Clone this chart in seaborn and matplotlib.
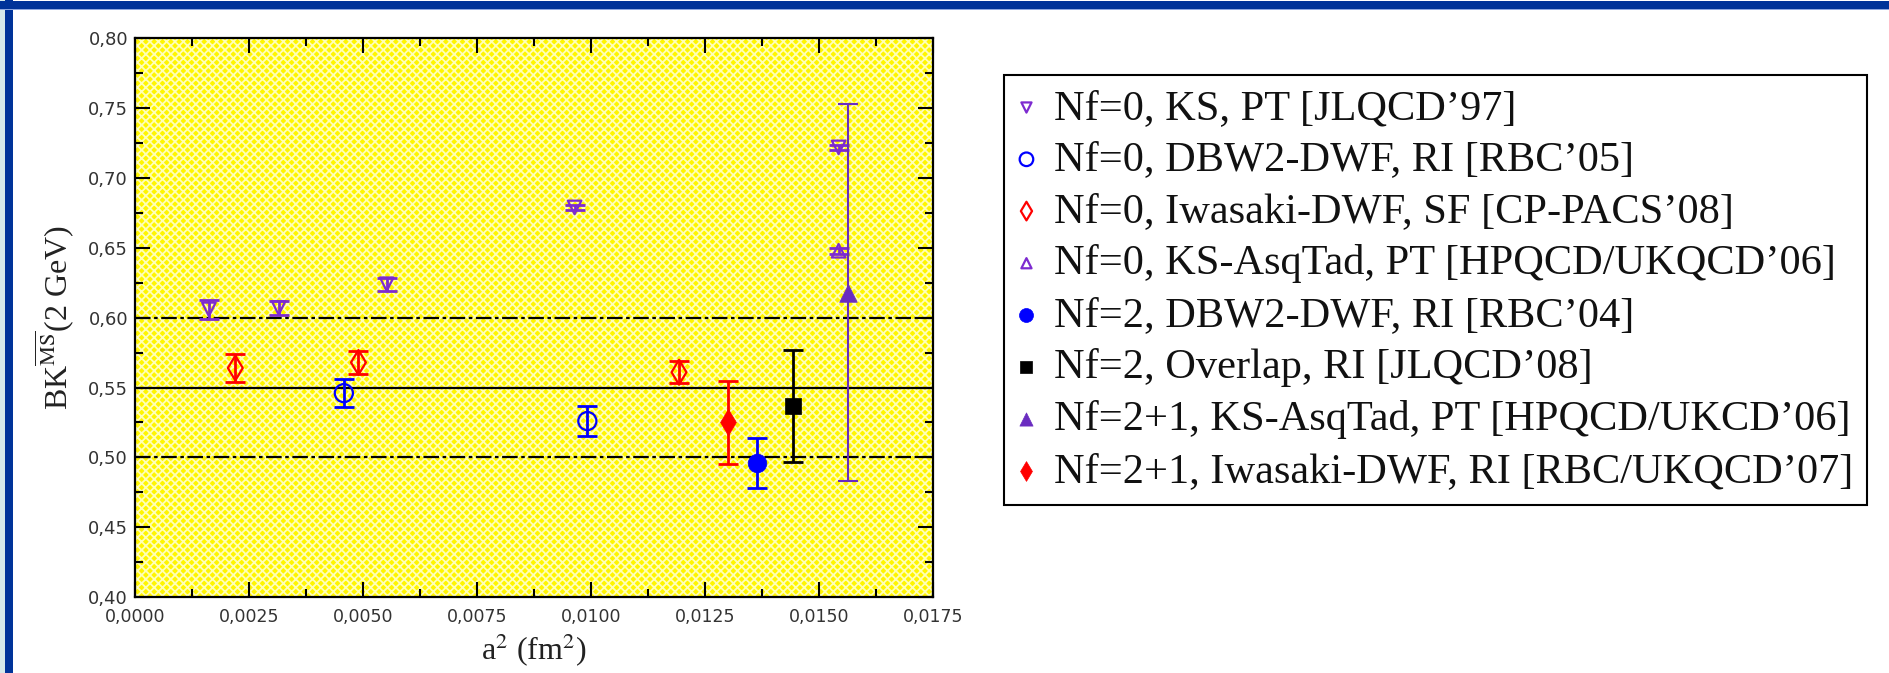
import numpy as np
import pandas as pd
import seaborn as sns
import matplotlib
matplotlib.use("Agg")
import matplotlib.pyplot as plt
from matplotlib.patches import Rectangle
from matplotlib.ticker import MultipleLocator

# ---------------- data ----------------
ks_pt_x = [0.00162, 0.00315, 0.00552, 0.00964, 0.01543]
ks_pt_y = [0.606, 0.607, 0.624, 0.679, 0.722]
ks_pt_e = [0.007, 0.005, 0.0045, 0.002, 0.002]

dbw2_05_x = [0.00458, 0.00992]
dbw2_05_y = [0.546, 0.526]
dbw2_05_e = [0.010, 0.011]

iwa_sf_x = [0.0022, 0.0049, 0.01193]
iwa_sf_y = [0.564, 0.568, 0.561]
iwa_sf_e = [0.010, 0.008, 0.008]

asq0_x = [0.01543]
asq0_y = [0.648]
asq0_e = [0.002]

dbw2_04_x = [0.01363]
dbw2_04_y = [0.496]
dbw2_04_e = [0.018]

ovl_x = [0.01444]
ovl_y = [0.537]
ovl_e = [0.040]

asq21_x = [0.01563]
asq21_y = [0.618]
asq21_e = [0.135]

iwa21_x = [0.0130]
iwa21_y = [0.525]
iwa21_e = [0.030]

labels = [
    "Nf=0, KS, PT [JLQCD\u201997]",
    "Nf=0, DBW2-DWF, RI [RBC\u201905]",
    "Nf=0, Iwasaki-DWF, SF [CP-PACS\u201908]",
    "Nf=0, KS-AsqTad, PT [HPQCD/UKQCD\u201906]",
    "Nf=2, DBW2-DWF, RI [RBC\u201904]",
    "Nf=2, Overlap, RI [JLQCD\u201908]",
    "Nf=2+1, KS-AsqTad, PT [HPQCD/UKCD\u201906]",
    "Nf=2+1, Iwasaki-DWF, RI [RBC/UKQCD\u201907]",
]

ref_lines = [0.60, 0.55, 0.50]
ref_styles = ["dashdot", "solid", "dashdot"]

xticks = [0.0, 0.0025, 0.0050, 0.0075, 0.0100, 0.0125, 0.0150, 0.0175]
xticklabels = ["0,0000", "0,0025", "0,0050", "0,0075", "0,0100", "0,0125", "0,0150", "0,0175"]
yticks = [0.40, 0.45, 0.50, 0.55, 0.60, 0.65, 0.70, 0.75, 0.80]
yticklabels = ["0,40", "0,45", "0,50", "0,55", "0,60", "0,65", "0,70", "0,75", "0,80"]

# ---------------- style ----------------
sns.set_theme(style="ticks")
plt.rcParams["font.family"] = ["DejaVu Sans"]
plt.rcParams["mathtext.fontset"] = "stix"
plt.rcParams["hatch.color"] = "#ffffb8"
plt.rcParams["hatch.linewidth"] = 1.3

PURPLE = "#7d2ad0"
BLUE = "#0000ff"
RED = "#ff0000"
BLACK = "#000000"

series = [
    (ks_pt_x, ks_pt_y, ks_pt_e, "v", PURPLE, False, 95),
    (dbw2_05_x, dbw2_05_y, dbw2_05_e, "o", BLUE, False, 170),
    (iwa_sf_x, iwa_sf_y, iwa_sf_e, "d", RED, False, 160),
    (asq0_x, asq0_y, asq0_e, "^", PURPLE, False, 95),
    (dbw2_04_x, dbw2_04_y, dbw2_04_e, "o", BLUE, True, 180),
    (ovl_x, ovl_y, ovl_e, "s", BLACK, True, 120),
    (asq21_x, asq21_y, asq21_e, "^", "#6a2cc0", True, 160),
    (iwa21_x, iwa21_y, iwa21_e, "d", RED, True, 180),
]

fig = plt.figure(figsize=(18.9, 6.73), dpi=100)
fig.patch.set_facecolor("white")

# slide frame decoration
fig.patches.append(Rectangle((0, 0), 5 / 1890, 1, transform=fig.transFigure,
                             facecolor="#d6e9ea", edgecolor="none", zorder=0))
fig.patches.append(Rectangle((5 / 1890, 0), 8 / 1890, 1, transform=fig.transFigure,
                             facecolor="#003399", edgecolor="none", zorder=0))
fig.patches.append(Rectangle((0, 1 - 9 / 673), 1, 8 / 673, transform=fig.transFigure,
                             facecolor="#003399", edgecolor="none", zorder=0))
fig.patches.append(Rectangle((0, 1 - 10 / 673), 1, 1 / 673, transform=fig.transFigure,
                             facecolor="#8fa8e0", edgecolor="none", zorder=0))

ax = fig.add_axes([135 / 1890, (673 - 597) / 673, (933 - 135) / 1890, (597 - 38.5) / 673])
ax.patch.set_facecolor("#fff500")
ax.patch.set_hatch("xxxx")
ax.patch.set_edgecolor("#ffffb8")
ax.patch.set_linewidth(0)

for yv, ls in zip(ref_lines, ref_styles):
    if ls == "dashdot":
        ax.axhline(yv, color="black", lw=1.6, dashes=(7, 1.6, 1.6, 1.6), zorder=1)
    else:
        ax.axhline(yv, color="black", lw=1.6, zorder=1)

for (xs, ys, es, mk, col, filled, s), lab in zip(series, labels):
    df = pd.DataFrame({"x": xs, "y": ys})
    big = (mk == "^" and filled)
    ax.errorbar(xs, ys, yerr=es, fmt="none", ecolor=col,
                elinewidth=1.5 if big else 2.0,
                capsize=7, capthick=1.5 if big else 2.0, zorder=2)
    if filled:
        sns.scatterplot(data=df, x="x", y="y", marker=mk, s=s, color=col,
                        edgecolor=col, linewidth=0.5, ax=ax, label=lab, zorder=3)
    else:
        sns.scatterplot(data=df, x="x", y="y", marker=mk, s=s, facecolors="none",
                        edgecolor=col, linewidth=1.6, ax=ax, label=lab, zorder=3)

ax.set_xlim(0.0, 0.0175)
ax.set_ylim(0.40, 0.80)
ax.set_xticks(xticks, xticklabels)
ax.set_yticks(yticks, yticklabels)
ax.xaxis.set_minor_locator(MultipleLocator(0.00125))
ax.yaxis.set_minor_locator(MultipleLocator(0.025))
ax.tick_params(which="both", direction="in", top=True, right=True, width=1.5,
               color="black")
ax.tick_params(which="major", length=11)
ax.tick_params(which="minor", length=5.5)
ax.tick_params(axis="x", which="major", labelsize=12.5, pad=8, labelcolor="#333333")
ax.tick_params(axis="y", which="major", labelsize=13, pad=5, labelcolor="#333333")
for sp in ax.spines.values():
    sp.set_linewidth(1.6)
    sp.set_color("black")
    sp.set_visible(True)

ax.set_xlabel(r"a$^{2}$ (fm$^{2}$)", family="Liberation Serif", fontsize=23, color="#222222")
ax.set_ylabel(r"BK$^{\overline{\mathrm{MS}}}$(2 GeV)", family="Liberation Serif", fontsize=23,
              color="#222222")
ax.xaxis.set_label_coords(0.5, -0.062)
ax.yaxis.set_label_coords(-0.074, 0.5)

handles, labs = ax.get_legend_handles_labels()
ax.get_legend().remove()
leg = fig.legend(handles, labs, loc="upper left",
                 bbox_to_anchor=(1004 / 1890, 1 - 75 / 673), bbox_transform=fig.transFigure,
                 borderaxespad=0, frameon=True, fancybox=False, edgecolor="black",
                 framealpha=1, prop={"family": "Liberation Serif", "size": 30.5},
                 handlelength=0.4, handletextpad=0.45, borderpad=0.33, labelspacing=0.31,
                 markerscale=0.75)
leg.get_frame().set_linewidth(1.5)
for t in leg.get_texts():
    t.set_color("#111111")

fig.savefig("out.png", dpi=100, facecolor="white")
